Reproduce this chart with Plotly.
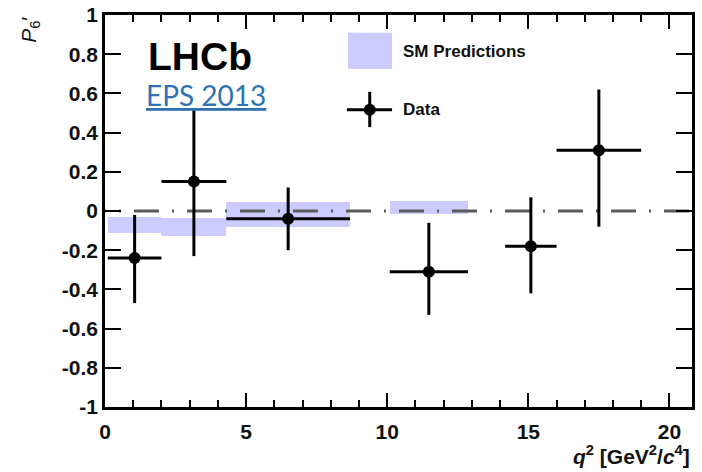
import plotly.graph_objects as go

# LHCb P6' measurement in bins of q^2
q2_lo = [0.1, 2.0, 4.3, 10.09, 14.18, 16.0]
q2_hi = [2.0, 4.3, 8.68, 12.86, 16.0, 19.0]
q2_mid = [1.05, 3.15, 6.49, 11.475, 15.09, 17.5]
p6 = [-0.24, 0.15, -0.04, -0.31, -0.18, 0.31]
p6_err_up = [0.22, 0.37, 0.16, 0.25, 0.25, 0.31]
p6_err_dn = [0.23, 0.38, 0.16, 0.22, 0.24, 0.39]

# Standard Model prediction bands
sm_lo = [0.1, 2.0, 4.3, 10.09]
sm_hi = [2.0, 4.3, 8.68, 12.86]
sm_min = [-0.11, -0.13, -0.08, -0.015]
sm_max = [-0.03, -0.035, 0.045, 0.05]

y_ticks = [-1, -0.8, -0.6, -0.4, -0.2, 0, 0.2, 0.4, 0.6, 0.8, 1]
y_ticktext = ["-1", "-0.8", "-0.6", "-0.4", "-0.2", "0", "0.2", "0.4", "0.6", "0.8", "1"]
x_ticks = [0, 5, 10, 15, 20]

X_RANGE = [0, 20.8]
Y_RANGE = [-1, 1]

SM_COLOR = "#ccccff"
FONT = "Liberation Sans"

fig = go.Figure()

fig.add_trace(go.Bar(
    x=[(a + b) / 2 for a, b in zip(sm_lo, sm_hi)],
    width=[b - a for a, b in zip(sm_lo, sm_hi)],
    base=sm_min,
    y=[hi - lo for lo, hi in zip(sm_min, sm_max)],
    marker=dict(color=SM_COLOR, line=dict(width=0)),
    showlegend=False,
    hoverinfo="skip",
))

# zero reference line
fig.add_trace(go.Scatter(
    x=[-0.85, X_RANGE[1]], y=[0, 0], mode="lines",
    line=dict(color="#5a5a5a", width=3, dash="25px,13px,2px,13px"),
    showlegend=False, hoverinfo="skip", cliponaxis=True,
))

fig.add_trace(go.Scatter(
    x=q2_mid, y=p6, mode="markers",
    marker=dict(color="black", size=12),
    error_x=dict(type="data", symmetric=False,
                 array=[h - m for h, m in zip(q2_hi, q2_mid)],
                 arrayminus=[m - l for l, m in zip(q2_lo, q2_mid)],
                 color="black", thickness=3, width=0),
    error_y=dict(type="data", symmetric=False,
                 array=p6_err_up, arrayminus=p6_err_dn,
                 color="black", thickness=3, width=0),
    showlegend=False,
))

tick_font = dict(family=FONT, size=21, color="#111111", weight="bold")

fig.update_layout(
    width=702, height=472,
    margin=dict(l=105, r=10, t=15, b=65, autoexpand=False),
    paper_bgcolor="white", plot_bgcolor="white",
    barmode="overlay", bargap=0,
    showlegend=False,
    xaxis=dict(
        range=X_RANGE, showgrid=False, zeroline=False, automargin=False,
        showline=True, linecolor="black", linewidth=2.5, mirror="allticks",
        ticks="inside", ticklen=14, tickwidth=2, tickcolor="black",
        tickvals=x_ticks, tickfont=tick_font, ticklabelstandoff=4,
        minor=dict(dtick=1, ticks="inside", ticklen=7, tickwidth=2, tickcolor="black"),
    ),
    yaxis=dict(
        range=Y_RANGE, showgrid=False, zeroline=False, automargin=False,
        showline=True, linecolor="black", linewidth=2.5, mirror="allticks",
        ticks="inside", ticklen=16, tickwidth=2, tickcolor="black",
        tickvals=y_ticks, ticktext=y_ticktext, tickfont=tick_font,
    ),
)

# legend drawn by hand
fig.add_shape(type="rect", xref="paper", yref="paper",
              x0=0.414, x1=0.489, y0=0.862, y1=0.955,
              fillcolor=SM_COLOR, line=dict(width=0))
fig.add_shape(type="line", xref="paper", yref="paper",
              x0=0.412, x1=0.489, y0=0.758, y1=0.758,
              line=dict(color="black", width=3))
fig.add_shape(type="line", xref="paper", yref="paper",
              x0=0.451, x1=0.451, y0=0.714, y1=0.804,
              line=dict(color="black", width=3))
fig.add_shape(type="circle", xref="paper", yref="paper",
              xsizemode="pixel", ysizemode="pixel",
              xanchor=0.451, yanchor=0.758, x0=-6, x1=6, y0=-6, y1=6,
              fillcolor="black", line=dict(width=0))

legend_font = dict(family=FONT, size=17, color="#111111", weight="bold")
fig.add_annotation(xref="paper", yref="paper", x=0.505, y=0.907,
                   text="SM Predictions", showarrow=False,
                   xanchor="left", yanchor="middle", font=legend_font)
fig.add_annotation(xref="paper", yref="paper", x=0.505, y=0.758,
                   text="Data", showarrow=False,
                   xanchor="left", yanchor="middle", font=legend_font)

fig.add_annotation(xref="paper", yref="paper", x=0.07, y=0.893,
                   text="LHCb", showarrow=False,
                   xanchor="left", yanchor="middle",
                   font=dict(family=FONT, size=39, color="black", weight="bold"))
fig.add_annotation(xref="paper", yref="paper", x=0.066, y=0.795,
                   text="<span style='text-decoration:underline'>EPS 2013</span>",
                   showarrow=False, xanchor="left", yanchor="middle",
                   font=dict(family="Lato", size=28, color="#2f72b3"))

# axis titles
fig.add_annotation(xref="paper", yref="paper", x=1.0, y=-0.122,
                   text="<i>q</i><sup>2</sup> [GeV<sup>2</sup>/<i>c</i><sup>4</sup>]",
                   showarrow=False, xanchor="right", yanchor="middle",
                   font=dict(family=FONT, size=21, color="#111111", weight="bold"))
fig.add_annotation(xref="paper", yref="paper", x=-0.128, y=1.0,
                   text="<i>P</i><sub>6</sub>′",
                   showarrow=False, xanchor="center", yanchor="top", textangle=-90,
                   font=dict(family=FONT, size=21, color="#111111"))

fig.write_html("out.html")
